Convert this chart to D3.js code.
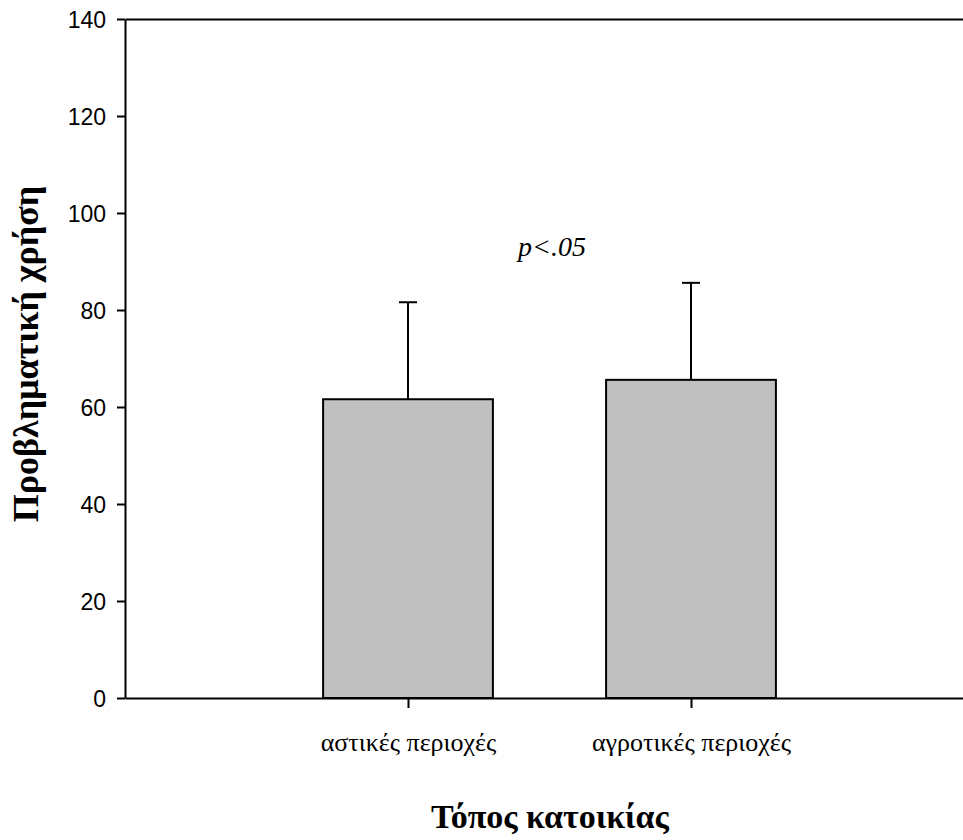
<!DOCTYPE html>
<html>
<head>
<meta charset="utf-8">
<script src="https://cdn.jsdelivr.net/npm/d3@7"></script>
<style>
  body { margin: 0; background: #fff; }
  svg { display: block; }
</style>
</head>
<body>
<svg id="chart" width="963" height="840"></svg>
<script>
// data
var categories = ["αστικές περιοχές", "αγροτικές περιοχές"];
var means = [61.6, 65.6];
var errors = [20.0, 20.0];
var barPos = [1, 2];          // bar centres in x units
var yTicks = [0, 20, 40, 60, 80, 100, 120, 140];

var svg = d3.select("#chart"),
    plotLeft = 125, plotTop = 19, plotBottom = 698;

// x runs past the right edge of the picture
var x = d3.scaleLinear().domain([0, 3]).range([plotLeft, 974]),
    y = d3.scaleLinear().domain([0, 140]).range([plotBottom, plotTop]);

var barW = x(0.6) - x(0),
    capW = 18;

// bars
svg.selectAll(".bar")
    .data(means)
    .enter().append("rect")
    .attr("class", "bar")
    .attr("x", function (d, i) { return x(barPos[i]) - barW / 2; })
    .attr("y", function (d) { return y(d); })
    .attr("width", barW)
    .attr("height", function (d) { return y(0) - y(d); })
    .style("fill", "#c0c0c0")
    .style("stroke", "#000")
    .style("stroke-width", 2);

// error bars (upper only)
var err = svg.selectAll(".err")
    .data(means)
    .enter().append("g")
    .attr("class", "err")
    .style("stroke", "#000")
    .style("stroke-width", 2);
err.append("line")
    .attr("x1", function (d, i) { return x(barPos[i]); })
    .attr("x2", function (d, i) { return x(barPos[i]); })
    .attr("y1", function (d) { return y(d); })
    .attr("y2", function (d, i) { return y(d + errors[i]); });
err.append("line")
    .attr("x1", function (d, i) { return x(barPos[i]) - capW / 2; })
    .attr("x2", function (d, i) { return x(barPos[i]) + capW / 2; })
    .attr("y1", function (d, i) { return y(d + errors[i]); })
    .attr("y2", function (d, i) { return y(d + errors[i]); });

// y axis
var yAxis = svg.append("g")
    .attr("transform", "translate(" + plotLeft + ",0)")
    .call(d3.axisLeft(y).tickValues(yTicks).tickSize(8).tickSizeOuter(0).tickPadding(11));
yAxis.selectAll("text")
    .style("font-family", "Arial, 'Liberation Sans', sans-serif")
    .style("font-size", "23px")
    .attr("dy", "0.35em");

// x axis
var xAxis = svg.append("g")
    .attr("transform", "translate(0," + plotBottom + ")")
    .call(d3.axisBottom(x).tickValues(barPos).tickSize(10).tickSizeOuter(0).tickPadding(25)
        .tickFormat(function (d, i) { return categories[i]; }));
xAxis.selectAll("text")
    .style("font-family", "'Times New Roman', 'Liberation Serif', serif")
    .style("font-size", "26px");

// top frame line
svg.append("g")
    .attr("transform", "translate(0," + plotTop + ")")
    .call(d3.axisTop(x).tickValues([]).tickSizeOuter(0));

svg.selectAll(".domain, .tick line")
    .style("stroke", "#000")
    .style("stroke-width", 2);

// axis titles
svg.append("text")
    .attr("transform", "translate(38,354) rotate(-90)")
    .attr("text-anchor", "middle")
    .style("font-family", "'Times New Roman', 'Liberation Serif', serif")
    .style("font-weight", "bold")
    .style("font-size", "36px")
    .text("Προβληματική χρήση");

svg.append("text")
    .attr("x", 550)
    .attr("y", 828)
    .attr("text-anchor", "middle")
    .style("font-family", "'Times New Roman', 'Liberation Serif', serif")
    .style("font-weight", "bold")
    .style("font-size", "34px")
    .text("Τόπος κατοικίας");

// significance note
svg.append("text")
    .attr("x", 552)
    .attr("y", 256)
    .attr("text-anchor", "middle")
    .style("font-family", "'Times New Roman', 'Liberation Serif', serif")
    .style("font-style", "italic")
    .style("font-size", "28px")
    .text("p<.05");
</script>
</body>
</html>
